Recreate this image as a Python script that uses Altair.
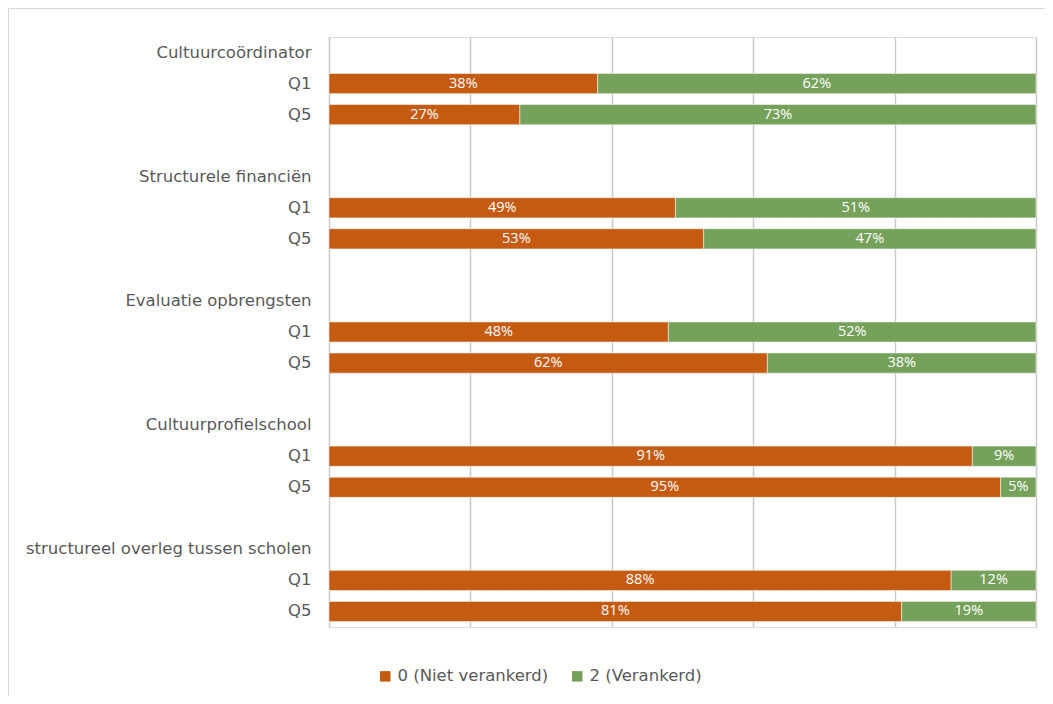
import altair as alt
import pandas as pd

groups = ["Cultuurcoördinator", "Structurele financiën", "Evaluatie opbrengsten",
          "Cultuurprofielschool", "structureel overleg tussen scholen"]
quarters = ["Q1", "Q5"]
series = ["0 (Niet verankerd)", "2 (Verankerd)"]
niet = [[38, 27], [49, 53], [48, 62], [91, 95], [88, 81]]
verankerd = [[62, 73], [51, 47], [52, 38], [9, 5], [12, 19]]
colors = ["#C55A11", "#76A15A"]

rows = []
for gi, g in enumerate(groups):
    for qi, q in enumerate(quarters):
        key = f"{g}|{q}"
        rows.append({"key": key, "series": series[0], "order": 0, "value": niet[gi][qi]})
        rows.append({"key": key, "series": series[1], "order": 1, "value": verankerd[gi][qi]})
df = pd.DataFrame(rows)

domain = []
for gi, g in enumerate(groups):
    domain.append(g)
    domain += [f"{g}|{q}" for q in quarters]
    if gi < len(groups) - 1:
        domain.append(f"~blank~{gi}")

FONT = "DejaVu Sans"
BAR_FONT = "Open Sans"
label_expr = ("indexof(datum.label,'|')>=0 ? split(datum.label,'|')[1] : "
              "(indexof(datum.label,'~blank~')==0 ? '' : datum.label)")

y_enc = alt.Y("key:N", sort=domain,
              scale=alt.Scale(domain=domain, paddingInner=0.35, paddingOuter=0.175),
              axis=alt.Axis(title=None, labelExpr=label_expr, ticks=False, domain=False,
                            labelFont=FONT, labelFontSize=16.5, labelColor="#595959",
                            labelPadding=18, labelLimit=400))
x_scale = alt.Scale(domain=[0, 100], nice=False, zero=True)

base = alt.Chart(df).transform_stack(
    stack="value", groupby=["key"], as_=["start", "end"],
    sort=[alt.SortField("order", order="ascending")]
)

bars = base.mark_bar(stroke="#f2f2f2", strokeWidth=0.6).encode(
    x=alt.X("start:Q", scale=x_scale,
            axis=alt.Axis(title=None, labels=False, ticks=False, domain=False,
                          values=[0, 20, 40, 60, 80, 100], grid=True,
                          gridColor="#c9c9c9", gridWidth=1.5)),
    x2="end:Q",
    y=y_enc,
    color=alt.Color("series:N", scale=alt.Scale(domain=series, range=colors),
                    legend=alt.Legend(title=None, orient="none", legendX=48, legendY=631,
                                      direction="horizontal", symbolType="square",
                                      symbolSize=110, symbolStrokeWidth=0,
                                      labelFont=FONT, labelFontSize=16.5, labelColor="#595959",
                                      labelOffset=4, columnPadding=20)),
)

texts = base.transform_calculate(
    mid="(datum.start + datum.end) / 2",
    lab="datum.value + '%'"
).mark_text(color="white", font=BAR_FONT, fontSize=14.5, baseline="middle", align="center").encode(
    x=alt.X("mid:Q", scale=x_scale),
    y=alt.Y("key:N", sort=domain),
    text="lab:N",
)

border = alt.Chart(alt.Data(values=[{"a": 1}])).mark_rect(
    filled=False, stroke="#d9d9d9", strokeWidth=1
).encode(
    x=alt.value(-320.5), x2=alt.value(760), y=alt.value(-28.5), y2=alt.value(720)
)

chart = alt.layer(bars, texts, border).properties(
    width=707, height=590,
    autosize=alt.AutoSizeParams(type="none"),
    padding={"left": 321, "top": 29, "right": 9, "bottom": 69},
).configure_view(fill="#f2f2f2", stroke=None).configure(background="white")

chart.save("out.html", embed_options={"renderer": "svg", "actions": False})
